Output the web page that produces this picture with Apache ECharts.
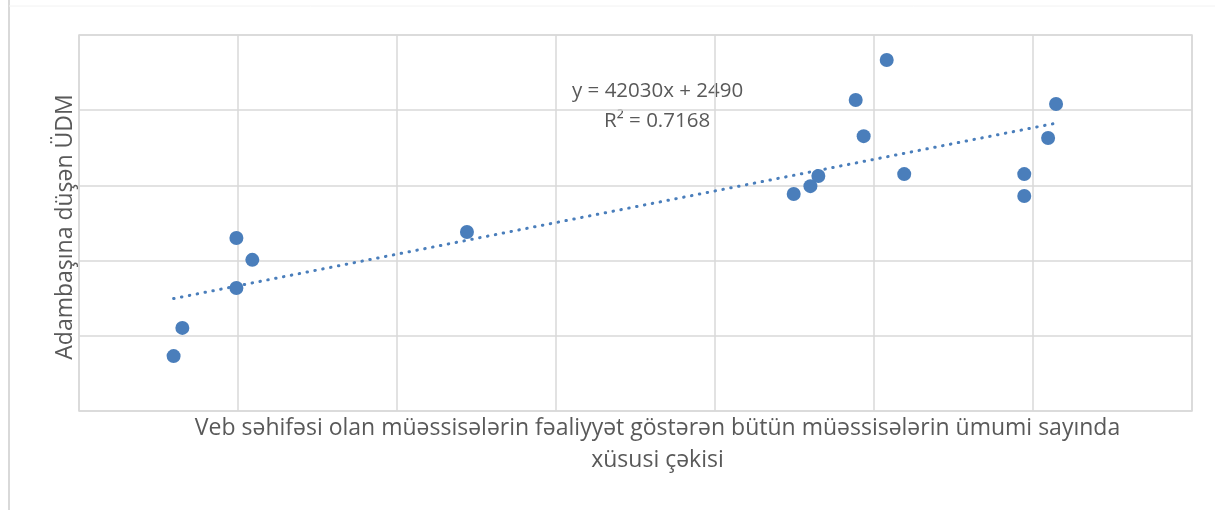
<!DOCTYPE html>
<html>
<head>
<meta charset="utf-8">
<script src="https://cdn.jsdelivr.net/npm/echarts@6/dist/echarts.min.js"></script>
<style>html,body{margin:0;padding:0;background:#fff}#c{width:1215px;height:510px}</style>
</head>
<body>
<div id="c"></div>
<script>
// Data
const xValues = [0.0119, 0.0130, 0.0198, 0.0218, 0.0198, 0.0488, 0.0899, 0.0920, 0.0930, 0.0977, 0.0987, 0.1016, 0.1038, 0.1189, 0.1189, 0.1219, 0.1229];
const yValues = [1460, 2210, 4600, 4020, 3270, 4760, 5770, 5980, 6250, 8270, 7310, 9335, 6300, 6300, 5720, 7260, 8165];
const trendSlope = 42030;
const trendIntercept = 2490;
const equationText = 'y = 42030x + 2490';
const r2Text = 'R² = 0.7168';
const xAxisTitle = 'Veb səhifəsi olan müəssisələrin fəaliyyət göstərən bütün müəssisələrin ümumi sayında\nxüsusi çəkisi';
const yAxisTitle = 'Adambaşına düşən ÜDM';

const points = xValues.map((x, i) => [x, yValues[i]]);
const xMin = Math.min(...xValues), xMax = Math.max(...xValues);
const trend = [[xMin, trendSlope * xMin + trendIntercept], [xMax, trendSlope * xMax + trendIntercept]];

const chart = echarts.init(document.getElementById('c'));
const gridColor = '#d9d9d9';
chart.setOption({
  animation: false,
  backgroundColor: '#fff',
  grid: { left: 79, top: 35, right: 23, bottom: 99, show: true, borderColor: gridColor, borderWidth: 1.5 },
  xAxis: {
    type: 'value', min: 0, max: 0.14, interval: 0.02,
    axisLine: { show: false }, axisTick: { show: false }, axisLabel: { show: false },
    splitLine: { lineStyle: { color: gridColor, width: 1.5 } },
    name: xAxisTitle, nameLocation: 'middle', nameGap: 1,
    nameTextStyle: { color: '#595959', fontSize: 23, fontFamily: 'Open Sans', lineHeight: 32, verticalAlign: 'top', padding: [0, 0, 0, 44] }
  },
  yAxis: {
    type: 'value', min: 0, max: 10000, interval: 2000,
    axisLine: { show: false }, axisTick: { show: false }, axisLabel: { show: false },
    splitLine: { lineStyle: { color: gridColor, width: 1.5 } },
    name: yAxisTitle, nameLocation: 'middle', nameGap: 2, nameRotate: 90,
    nameTextStyle: { color: '#595959', fontSize: 23, fontFamily: 'Open Sans', padding: [0, 8, 0, 0] }
  },
  series: [
    {
      type: 'line', data: trend, showSymbol: false, symbol: 'none',
      lineStyle: { color: '#4a7ebb', width: 3, type: [0.5, 7.5], cap: 'round' },
      z: 1
    },
    {
      type: 'scatter', data: points, symbol: 'circle', symbolSize: 14,
      itemStyle: { color: '#4a7ebb', opacity: 1 }, z: 2
    }
  ],
  graphic: [
    { type: 'line', shape: { x1: 9, y1: 0, x2: 9, y2: 510 }, style: { stroke: '#d9d9d9', lineWidth: 2 } },
    { type: 'line', shape: { x1: 9, y1: 6, x2: 1215, y2: 6 }, style: { stroke: '#f2f2f2', lineWidth: 1 } },
    { type: 'text', left: 572, top: 81, style: { text: equationText, fill: '#595959', font: '20.5px "Open Sans"' } },
    { type: 'text', left: 604, top: 111, style: { text: r2Text, fill: '#595959', font: '20.5px "Open Sans"' } }
  ]
});
</script>
</body>
</html>
